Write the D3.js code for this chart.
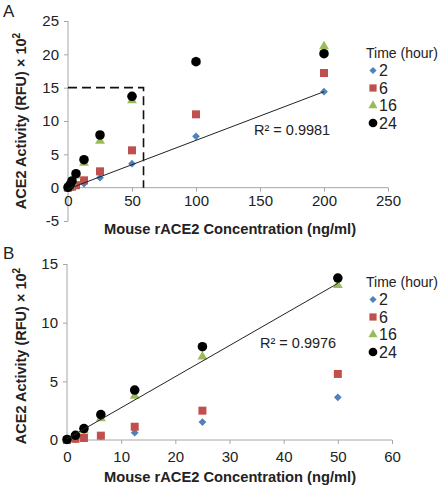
<!DOCTYPE html>
<html><head><meta charset="utf-8">
<script src="https://cdn.jsdelivr.net/npm/d3@7"></script>
<style>body{margin:0;background:#fff}svg{display:block;font-family:"Liberation Sans",Arial,sans-serif}</style>
</head><body><svg id="c" width="440" height="487"></svg>
<script>
// ---- data ----
const concA = [0, 1.5625, 3.125, 6.25, 12.5, 25, 50, 100, 200];
const h2A  = [0, 0.05, 0.15, 0.3, 0.6, 1.5, 3.6, 7.7, 14.4];
const h6A  = [0, 0.1, 0.17, 0.37, 1.1, 2.45, 5.6, 11.0, 17.2];
const h16A = [0, 0.3, 0.8, 1.8, 3.7, 7.0, 13.1, 18.9, 21.2];
const h24A = [0.05, 0.4, 1.0, 2.1, 4.2, 7.9, 13.7, 18.9, 20.1];
const concB = [0, 1.5625, 3.125, 6.25, 12.5, 25, 50];
const h2B  = [0, 0.05, 0.15, 0.3, 0.62, 1.53, 3.64];
const h6B  = [0, 0.1, 0.17, 0.37, 1.13, 2.5, 5.63];
const h16B = [0, 0.3, 0.8, 1.85, 3.75, 7.1, 13.2];
const h24B = [0.05, 0.4, 0.97, 2.16, 4.26, 7.95, 13.8];
const seriesNames = ["2", "6", "16", "24"];
const trendA = [[0, -0.2], [200, 14.4]];
const trendB = [[0, 0.1], [50, 13.35]];
const boxA = [[0, 15], [59, 15], [59, 0]];
const r2A = "R² = 0.9981", r2B = "R² = 0.9976";
const xTicksA = [0, 50, 100, 150, 200, 250], yTicksA = [-5, 0, 5, 10, 15, 20, 25];
const xTicksB = [0, 10, 20, 30, 40, 50, 60], yTicksB = [0, 5, 10, 15];

const colors = ["#4f81bd", "#c0504d", "#9bbb59", "#000000"];
const shapes = [
  {type: d3.symbolSquare, size: 30, rot: 45},
  {type: d3.symbolSquare, size: 64, rot: 0},
  {type: d3.symbolTriangle, size: 42, rot: 0},
  {type: d3.symbolCircle, size: 72, rot: 0}
];
const legShapes = [
  {type: d3.symbolSquare, size: 26, rot: 45},
  {type: d3.symbolSquare, size: 52, rot: 0},
  {type: d3.symbolTriangle, size: 36, rot: 0},
  {type: d3.symbolCircle, size: 60, rot: 0}
];
const svg = d3.select("#c");
const axisColor = "#a6a6a6";

function panel(o) {
  const g = svg.append("g");
  const x = d3.scaleLinear().domain(o.xd).range(o.xr);
  const y = d3.scaleLinear().domain(o.yd).range(o.yr);
  const ya = g.append("g").attr("transform", `translate(${o.xr[0]},0)`)
    .call(d3.axisLeft(y).tickValues(o.yTicks).tickSize(4).tickPadding(5).tickFormat(d => String(d)));
  const xa = g.append("g").attr("transform", `translate(0,${y(0)})`)
    .call(d3.axisBottom(x).tickValues(o.xTicks).tickSize(4).tickPadding(o.xpad).tickFormat(d => String(d)));
  [ya, xa].forEach(a => {
    a.select(".domain").attr("stroke", axisColor).attr("stroke-width", 1);
    a.selectAll(".tick line").attr("stroke", axisColor);
    a.selectAll("text").attr("font-size", 15).attr("fill", "#222").attr("font-family", "Liberation Sans, Arial, sans-serif");
  });
  ya.select(".domain").attr("d", `M-0,${o.yr[0]}V${o.yr[1]}`);
  xa.select(".domain").attr("d", `M${o.xr[0]},0H${o.xr[1]}`);
  if (o.box) {
    g.append("path").attr("d", d3.line().x(d => x(d[0])).y(d => y(d[1]))(o.box))
      .attr("fill", "none").attr("stroke", "#111").attr("stroke-width", 1.6).attr("stroke-dasharray", "9,5");
  }
  o.series.forEach((vals, i) => {
    const sh = shapes[i];
    g.append("g").selectAll("path").data(vals.map((v, j) => [o.conc[j], v])).join("path")
      .attr("d", d3.symbol().type(sh.type).size(sh.size))
      .attr("transform", d => `translate(${x(d[0])},${y(d[1])}) rotate(${sh.rot})`)
      .attr("fill", colors[i]);
  });
  g.append("path").attr("d", d3.line().x(d => x(d[0])).y(d => y(d[1]))(o.trend))
    .attr("fill", "none").attr("stroke", "#222").attr("stroke-width", 1);
  g.append("text").attr("x", o.r2x).attr("y", o.r2y).attr("font-size", 14.5).attr("fill", "#222").text(o.r2);
  g.append("text").attr("x", o.legX - 7).attr("y", o.legY).attr("font-size", 14).attr("fill", "#222").text("Time (hour)");
  seriesNames.forEach((n, i) => {
    const cy = o.legY + 18 + i * 17.5;
    const sh = legShapes[i];
    g.append("path").attr("d", d3.symbol().type(sh.type).size(sh.size)())
      .attr("transform", `translate(${o.legX},${cy - 5.5}) rotate(${sh.rot})`).attr("fill", colors[i]);
    g.append("text").attr("x", o.legX + 6).attr("y", cy).attr("font-size", 16).attr("fill", "#222").text(n);
  });
  g.append("text").attr("x", o.titleX).attr("y", o.xTitleY).attr("text-anchor", "middle")
    .attr("font-size", 14.7).attr("font-weight", "bold").attr("fill", "#222").text("Mouse rACE2 Concentration (ng/ml)");
  const yt = g.append("text").attr("transform", `translate(${o.yTitleX},${o.yTitleCy}) rotate(-90)`)
    .attr("text-anchor", "middle").attr("font-size", 14.5).attr("font-weight", "bold").attr("fill", "#222");
  yt.append("tspan").text("ACE2 Activity (RFU) × 10");
  yt.append("tspan").attr("font-size", 10).attr("dy", -6).text("2");
  g.append("text").attr("x", o.lblX).attr("y", o.lblY).attr("font-size", 17).attr("fill", "#222").text(o.label);
}

panel({xd: [0, 250], xr: [68, 388], yd: [-5, 25], yr: [221, 21],
  xTicks: xTicksA, yTicks: yTicksA, xpad: 4, conc: concA, series: [h2A, h6A, h16A, h24A],
  trend: trendA, box: boxA, r2: r2A, r2x: 254, r2y: 135, legX: 373, legY: 58,
  titleX: 230, xTitleY: 234, yTitleX: 26, yTitleCy: 121, lblX: 3, lblY: 17, label: "A"});
panel({xd: [0, 60], xr: [67, 392], yd: [0, 15], yr: [440, 264],
  xTicks: xTicksB, yTicks: yTicksB, xpad: 7, conc: concB, series: [h2B, h6B, h16B, h24B],
  trend: trendB, box: null, r2: r2B, r2x: 260, r2y: 348, legX: 373, legY: 287,
  titleX: 230, xTitleY: 482, yTitleX: 26, yTitleCy: 356, lblX: 3, lblY: 259, label: "B"});
</script></body></html>
